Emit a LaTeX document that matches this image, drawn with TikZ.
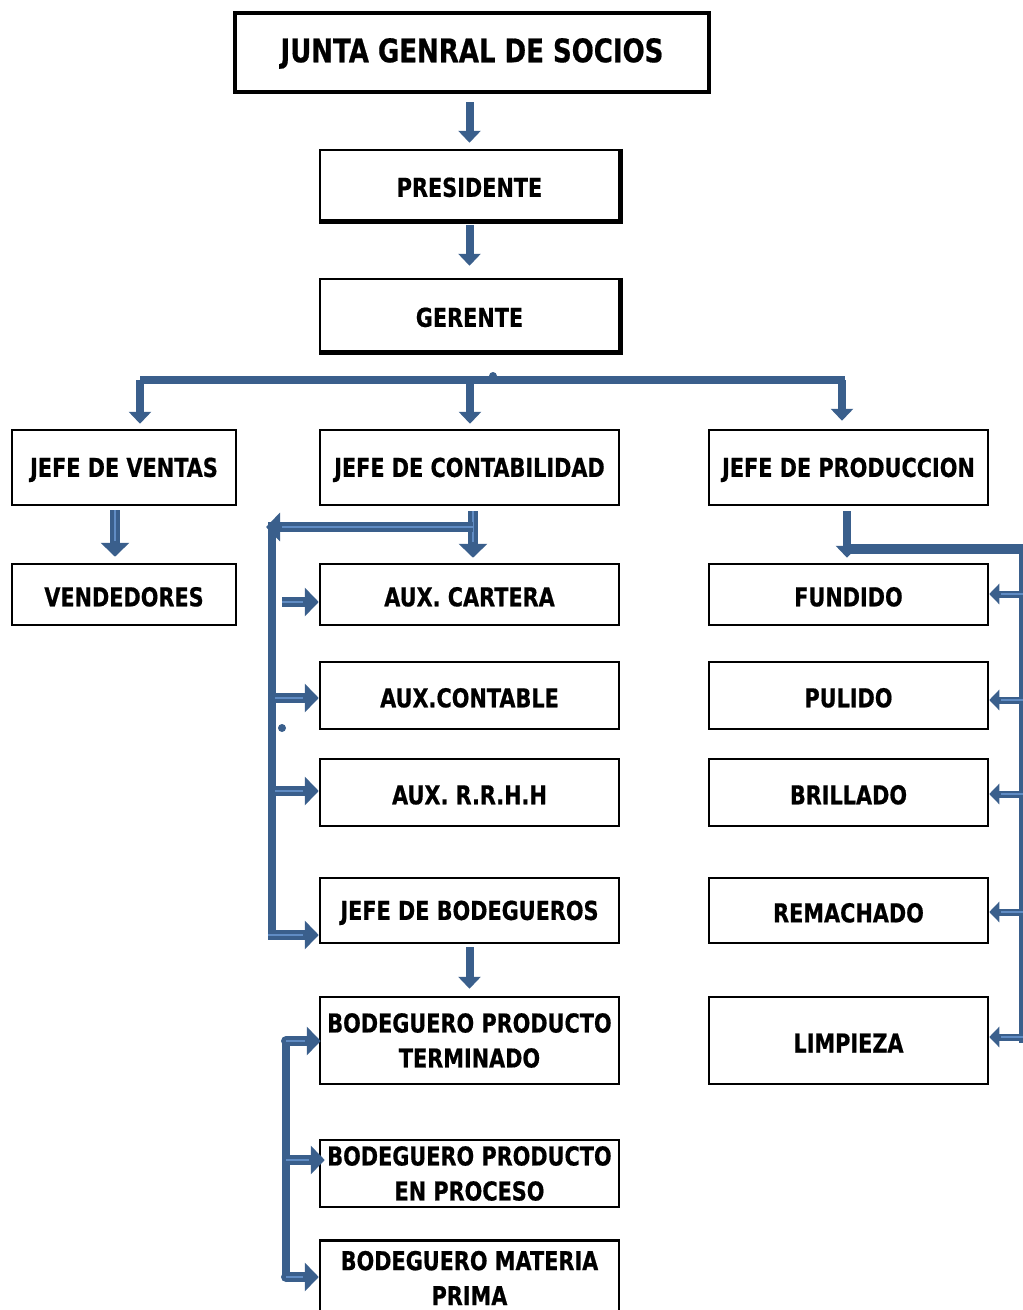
\documentclass[tikz,border=0pt]{standalone}
\usepackage{fontspec}
\setmainfont{DejaVu Sans}[FakeStretch=0.8,BoldFeatures={FakeBold=0.6}]
\usetikzlibrary{arrows.meta}
\definecolor{bblue}{RGB}{58,95,140}
\definecolor{lblue}{RGB}{96,140,196}
\newcommand{\boxfont}{\fontsize{26}{35}\selectfont\bfseries}
\tikzstyle{box}=[draw,line width=2.5pt,minimum width=299pt,minimum height=67pt,inner sep=2pt,align=center,text height=24pt,font=\boxfont]
\tikzstyle{twobox}=[box,text height=]
\tikzstyle{pbox}=[box,minimum width=279pt]
\tikzstyle{vbox}=[box,minimum width=224pt]
\tikzstyle{arr}=[bblue,line width=8pt,-{Triangle[width=22pt,length=12pt]}]
\tikzstyle{barr}=[bblue,line width=10pt,-{Triangle[width=28pt,length=14pt]},postaction={draw,lblue,line width=1.5pt,-,shorten >=16pt}]
\tikzstyle{parr}=[bblue,line width=7pt,-{Triangle[width=20pt,length=10pt]},postaction={draw,lblue,line width=1.2pt,-,shorten >=12pt}]
\tikzstyle{bar}=[bblue,line width=8pt]
\tikzstyle{pbar}=[bblue,line width=5pt]

\begin{document}
\begin{tikzpicture}[x=1pt,y=-1pt]
    \useasboundingbox[fill=white] (0,0) rectangle (1023,1310);
    \node[box,line width=4pt,minimum width=474pt,minimum height=79pt,text height=26pt,font=\fontsize{32.5}{36}\selectfont\bfseries] (junta) at (472,52.5) {JUNTA GENRAL DE SOCIOS};
    \node[box,minimum height=70pt] (pres) at (469.5,185) {PRESIDENTE};
    \node[box,minimum height=72pt] (ger) at (469.5,315) {GERENTE};
    \draw[line width=5pt] (pres.north east) -- (pres.south east) -- (pres.south west);
    \draw[line width=5pt] (ger.north east) -- (ger.south east) -- (ger.south west);
    % jefes
    \node[vbox,minimum height=75pt] (jv) at (124,467.5) {JEFE DE VENTAS};
    \node[box,minimum height=75pt] (jc) at (469.5,467.5) {JEFE DE CONTABILIDAD};
    \node[pbox,minimum height=75pt] (jp) at (848.5,467.5) {JEFE DE PRODUCCION};
    % ventas
    \node[vbox,minimum height=61pt] (vend) at (124,594.5) {VENDEDORES};
    % contabilidad
    \node[box,minimum height=61pt] (cart) at (469.5,594.5) {AUX. CARTERA};
    \node[box] (cont) at (469.5,695.5) {AUX.CONTABLE};
    \node[box] (rrhh) at (469.5,792.5) {AUX. R.R.H.H};
    \node[box,minimum height=65pt] (jb) at (469.5,910.5) {JEFE DE BODEGUEROS};
    \node[twobox,minimum height=87pt] (bpt) at (469.5,1040.5) {BODEGUERO PRODUCTO\\TERMINADO};
    \node[twobox] (bpp) at (469.5,1173.5) {BODEGUERO PRODUCTO\\EN PROCESO};
    \node[twobox,minimum height=75pt] (bmp) at (469.5,1278) {BODEGUERO MATERIA\\PRIMA};
    % produccion
    \node[pbox,minimum height=61pt] (fund) at (848.5,594.5) {FUNDIDO};
    \node[pbox] (pul) at (848.5,695.5) {PULIDO};
    \node[pbox] (bri) at (848.5,792.5) {BRILLADO};
    \node[pbox,minimum height=65pt] (rem) at (848.5,910.5) {REMACHADO};
    \node[pbox,minimum height=87pt] (limp) at (848.5,1040.5) {LIMPIEZA};

    \draw[arr] ([yshift=-8pt]pres.north |- junta.south) -- ([yshift=6pt]pres.north);
    \draw[arr] ([yshift=-4pt]pres.south) -- ([yshift=12pt]ger.north);
    % barra gerente
    \coordinate (bl) at (140,380);
    \coordinate (br) at (845,380);
    \coordinate (bm) at (470,380);
    \draw[bar] (bl) -- (br);
    \fill[bblue] (493,376) circle (4pt);
    \draw[arr] (bl) -- ([yshift=5pt]bl |- jv.north);
    \draw[arr] (bm) -- ([yshift=5pt]bm |- jc.north);
    \draw[arr] ([xshift=-3pt]br) -- ([xshift=-3pt,yshift=8pt]br |- jp.north);
    % ventas
    \draw[barr] ([xshift=-9pt,yshift=-4pt]jv.south) -- ([xshift=-9pt,yshift=6pt]vend.north);
    % contabilidad
    \coordinate (cj) at (473,527);
    \coordinate (cl) at (266,527);
    \coordinate (cv) at (272,522);
    \coordinate (cb) at (272,936);
    \draw[barr] ([yshift=-5pt]cj |- jc.south) -- ([yshift=5pt]cj |- cart.north);
    \draw[barr] (cj) -- (cl);
    \draw[bar] (cv) -- (cb);
    \fill[bblue] (282,728) circle (4pt);
    \draw[barr] (282,602) -- (cart.west |- 0,602);
    \foreach \n/\y in {cont/698,rrhh/791}
        \draw[barr] (275,\y) -- (\n.west |- 0,\y);
    \draw[barr] (268,935) -- (jb.west |- 0,935);
    \draw[arr] ([yshift=-3pt]jb.south) -- ([yshift=7pt]bpt.north);
    % bodegueros
    \coordinate (bt) at (286,1041);
    \coordinate (bb) at (286,1277);
    \draw[bar] (bt) -- (bb);
    \fill[bblue] (bt) circle (5pt);
    \fill[bblue] (bb) circle (5pt);
    \draw[barr] (bt) -- ([xshift=2pt]bpt.west |- bt);
    \draw[barr] (286,1160) -- ([xshift=6pt]bpp.west |- 0,1160);
    \draw[barr] (bb) -- (bmp.west |- bb);
    % produccion
    \coordinate (pj) at (847,549);
    \coordinate (pr) at (1021,549);
    \coordinate (pb) at (1021,1043);
    \draw[arr] ([yshift=-5pt]pj |- jp.south) -- ([yshift=5pt]pj |- fund.north);
    \draw[pbar,line width=10pt] (pj) -- ([xshift=2pt]pr);
    \draw[pbar] (pr) -- (pb);
    \foreach \n/\y in {fund/594,pul/700,bri/794,rem/912,limp/1037}
        \draw[parr] (1023,\y) -- (\n.east |- 0,\y);
\end{tikzpicture}
\end{document}
